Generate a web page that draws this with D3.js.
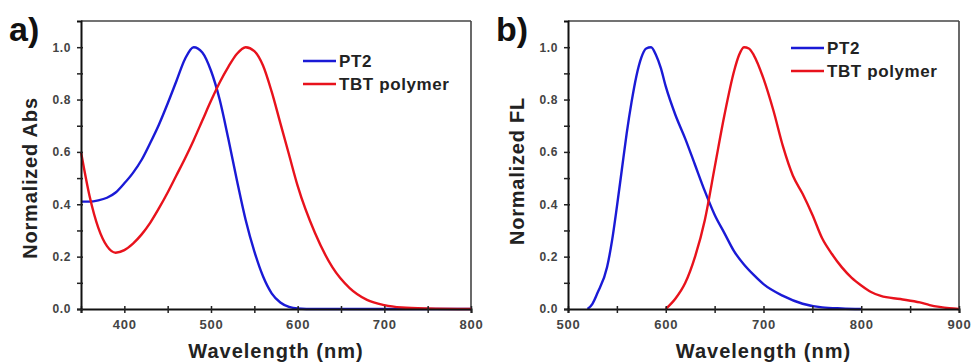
<!DOCTYPE html>
<html><head><meta charset="utf-8">
<script src="https://cdn.jsdelivr.net/npm/d3@7"></script>
<style>
body{margin:0;background:#fff;}
svg{display:block;font-family:"Liberation Sans",Arial,sans-serif;}
</style></head>
<body><svg id="c" width="976" height="363"></svg>
<script>
// ---- Panel a: normalized absorption ----
const absWavelength = [350,360,370,380,390,400,410,420,430,440,450,460,470,480,490,500,510,520,530,540,550,560,570,580,590,600,620,640,660,680,700,720,750,800];
const absPT2 = [0.41,0.41,0.415,0.425,0.445,0.48,0.52,0.57,0.635,0.705,0.785,0.87,0.955,1.0,0.98,0.91,0.80,0.65,0.49,0.34,0.22,0.125,0.06,0.025,0.008,0.002,0,0,0,0,0,0,0,0];
const absTBT = [0.60,0.43,0.31,0.24,0.215,0.225,0.25,0.285,0.33,0.385,0.445,0.51,0.575,0.645,0.72,0.795,0.865,0.925,0.975,1.0,0.985,0.93,0.83,0.71,0.59,0.47,0.29,0.16,0.08,0.035,0.015,0.006,0.002,0];
// ---- Panel b: normalized fluorescence ----
const flWavelengthPT2 = [520,525,530,540,545,550,555,560,565,570,575,580,585,590,595,600,610,620,630,640,650,660,670,680,690,700,720,740,760,780,800];
const flPT2 = [0.0,0.02,0.06,0.16,0.26,0.39,0.53,0.67,0.79,0.89,0.96,0.995,1.0,0.97,0.92,0.85,0.74,0.65,0.55,0.45,0.36,0.29,0.22,0.17,0.13,0.095,0.05,0.02,0.006,0.002,0];
const flWavelengthTBT = [600,610,620,630,640,650,660,670,675,680,685,690,700,710,720,730,740,750,760,770,780,790,800,810,820,840,860,870,880,890,900];
const flTBT = [0.0,0.04,0.10,0.20,0.34,0.54,0.74,0.91,0.97,1.0,0.995,0.97,0.88,0.76,0.62,0.51,0.44,0.36,0.27,0.21,0.16,0.12,0.09,0.065,0.05,0.038,0.025,0.015,0.008,0.003,0];

const seriesNames = ["PT2","TBT polymer"];
const seriesColors = ["#1a1ad6","#e8121c"];
const yTicks = [0,0.2,0.4,0.6,0.8,1.0];

const svg = d3.select("#c");

function panel(cfg){
  const g = svg.append("g");
  const x = d3.scaleLinear().domain(cfg.xDomain).range([cfg.left,cfg.right]);
  const y = d3.scaleLinear().domain([0,1.1]).range([309,21]);
  g.append("line").attr("x1",cfg.left).attr("x2",cfg.right).attr("y1",21).attr("y2",21).attr("stroke","#444").attr("stroke-width",1.6);
  g.append("line").attr("x1",cfg.right).attr("x2",cfg.right).attr("y1",21).attr("y2",309).attr("stroke","#444").attr("stroke-width",1.6);

  const line = d3.line().x(d=>x(d[0])).y(d=>y(d[1])).curve(d3.curveMonotoneX);
  cfg.series.forEach((s,i)=>{
    g.append("path").datum(s.xs.map((v,k)=>[v,s.ys[k]]))
      .attr("d",line).attr("fill","none").attr("stroke",seriesColors[i]).attr("stroke-width",2.4)
      .attr("stroke-linejoin","round");
  });

  const xa = g.append("g").attr("transform","translate(0,309)")
    .call(d3.axisBottom(x).tickValues(d3.range(cfg.xDomain[0],cfg.xDomain[1]+1,50)).tickSize(4).tickPadding(5)
      .tickFormat(d=> (d%100===0 && cfg.xLabels.includes(d)) ? d : ""));
  xa.select(".domain").attr("stroke","#111").attr("stroke-width",2);
  xa.selectAll(".tick line").attr("y1",-3).attr("y2",4).attr("stroke","#222").attr("stroke-width",1.5);
  xa.selectAll(".tick text").attr("fill","#444").attr("font-size",13).attr("font-weight","bold").attr("letter-spacing",0.8).attr("dy","0.85em");

  const ya = g.append("g").attr("transform",`translate(${cfg.left},0)`)
    .call(d3.axisLeft(y).tickValues(d3.range(0,11).map(k=>k/10)).tickSize(4).tickPadding(6)
      .tickFormat(d=> yTicks.some(t=>Math.abs(t-d)<1e-9) ? d3.format(".1f")(d) : ""));
  ya.select(".domain").attr("stroke","#111").attr("stroke-width",2);
  ya.selectAll(".tick line").attr("x1",-4).attr("x2",2).attr("stroke","#222").attr("stroke-width",1.5);
  ya.selectAll(".tick text").attr("fill","#444").attr("font-size",12).attr("font-weight","bold").attr("letter-spacing",0.6);

  g.append("text").attr("x",(cfg.left+cfg.right)/2).attr("y",358).attr("text-anchor","middle")
    .attr("font-size",20).attr("font-weight","bold").attr("letter-spacing",1).attr("fill","#222").text("Wavelength (nm)");
  g.append("text").attr("transform",`translate(${cfg.left-44},${cfg.yTitleY}) rotate(-90)`).attr("text-anchor","middle")
    .attr("font-size",20).attr("font-weight","bold").attr("letter-spacing",0.8).attr("fill","#222").text(cfg.yTitle);

  g.append("text").attr("x",cfg.left-72).attr("y",41).attr("font-size",34).attr("font-weight","bold").attr("fill","#111").text(cfg.label);

  seriesNames.forEach((n,i)=>{
    const ly = cfg.legendY + i*23;
    g.append("line").attr("x1",cfg.legendX).attr("x2",cfg.legendX+33).attr("y1",ly).attr("y2",ly)
      .attr("stroke",seriesColors[i]).attr("stroke-width",2.4);
    g.append("text").attr("x",cfg.legendX+36).attr("y",ly+6).attr("font-size",17).attr("font-weight","bold")
      .attr("letter-spacing",0.6).attr("fill","#222").text(n);
  });
}

panel({left:81,right:471,xDomain:[350,800],xLabels:[400,500,600,700,800],
  series:[{xs:absWavelength,ys:absPT2},{xs:absWavelength,ys:absTBT}],
  yTitle:"Normalized Abs",yTitleY:178,label:"a)",legendX:303,legendY:61});
panel({left:568,right:959,xDomain:[500,900],xLabels:[500,600,700,800,900],
  series:[{xs:flWavelengthPT2,ys:flPT2},{xs:flWavelengthTBT,ys:flTBT}],
  yTitle:"Normalized FL",yTitleY:171,label:"b)",legendX:791,legendY:48});
</script></body></html>
